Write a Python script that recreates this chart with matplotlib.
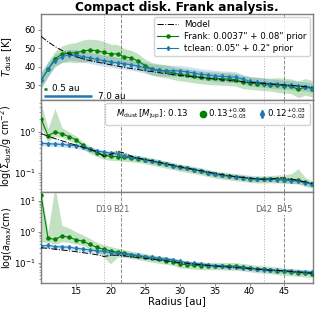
import numpy as np
import matplotlib
matplotlib.use("Agg")
import matplotlib.pyplot as plt
from matplotlib.lines import Line2D

# ----- data ----------------------------------------------------------
radius = [10, 11, 12, 13, 14, 15, 16, 17, 18, 19,
          20, 21, 22, 23, 24, 25, 26, 27, 28, 29,
          30, 31, 32, 33, 34, 35, 36, 37, 38, 39,
          40, 41, 42, 43, 44, 45, 46, 47, 48, 49]

# dust temperature [K]
t_model = [56.5, 53.5, 51.0, 48.8, 47.0, 45.5, 44.3, 43.3, 42.5, 41.8,
           41.0, 40.3, 39.6, 39.0, 38.4, 37.8, 37.3, 36.7, 36.2, 35.7,
           35.2, 34.8, 34.4, 34.0, 33.6, 33.2, 32.8, 32.5, 32.1, 31.8,
           31.5, 31.2, 30.9, 30.6, 30.3, 30.0, 29.7, 29.4, 29.1, 28.8]
t_frank = [32.5, 38.5, 44.3, 46.7, 47.5, 47.6, 48.5, 49.0, 48.7, 47.8,
           46.8, 47.0, 45.3, 44.8, 43.0, 40.5, 38.7, 38.0, 37.5, 36.5,
           35.8, 35.3, 34.7, 34.2, 33.8, 33.6, 33.4, 33.2, 32.9, 31.6,
           31.2, 30.8, 30.5, 30.2, 30.0, 29.7, 29.3, 27.6, 29.0, 28.0]
t_frank_err = [4.0, 4.0, 4.0, 4.5, 5.0, 5.5, 6.0, 6.0, 6.0, 6.0,
               5.5, 5.0, 4.5, 4.0, 4.0, 3.5, 3.5, 3.5, 3.5, 3.5,
               3.5, 3.5, 3.5, 3.5, 3.5, 3.5, 3.5, 3.5, 3.5, 3.5,
               3.5, 3.5, 3.5, 3.5, 4.0, 4.0, 4.0, 4.5, 4.5, 4.5]
t_tclean = [32.5, 38.7, 43.3, 45.3, 46.5, 46.3, 45.5, 44.8, 44.0, 43.3,
            42.7, 42.0, 41.6, 41.0, 40.3, 39.3, 38.5, 38.0, 37.8, 37.8,
            37.6, 37.2, 36.5, 35.8, 35.5, 35.0, 34.7, 34.5, 34.3, 33.3,
            32.0, 31.6, 31.2, 30.8, 30.5, 30.2, 29.9, 29.6, 29.2, 28.5]
t_tclean_err = [4.5, 4.0, 3.5, 3.0, 3.0, 3.0, 3.0, 3.0, 3.0, 3.0,
                3.0, 3.0, 3.0, 3.0, 3.0, 3.0, 3.0, 3.0, 3.0, 3.0,
                3.0, 3.0, 3.0, 3.0, 3.0, 3.0, 3.0, 3.0, 3.0, 2.5,
                2.5, 2.5, 2.5, 2.5, 2.5, 2.5, 2.5, 2.5, 2.5, 2.5]

# dust surface density [g cm^-2]
s_model = [0.90, 0.78, 0.68, 0.60, 0.53, 0.47, 0.42, 0.37, 0.33, 0.25,
           0.28, 0.33, 0.30, 0.25, 0.225, 0.21, 0.195, 0.18, 0.165, 0.152,
           0.140, 0.130, 0.120, 0.112, 0.104, 0.097, 0.090, 0.085, 0.080, 0.077,
           0.074, 0.071, 0.069, 0.070, 0.074, 0.075, 0.070, 0.064, 0.059, 0.055]
s_frank = [2.1, 0.80, 0.98, 0.90, 0.76, 0.64, 0.47, 0.37, 0.31, 0.265,
           0.25, 0.245, 0.237, 0.23, 0.22, 0.205, 0.19, 0.175, 0.16, 0.148,
           0.135, 0.127, 0.118, 0.110, 0.100, 0.092, 0.087, 0.083, 0.079, 0.076,
           0.072, 0.070, 0.070, 0.071, 0.070, 0.068, 0.068, 0.066, 0.058, 0.053]
s_frank_up = [2.4, 1.5, 3.8, 1.4, 1.3, 1.25, 1.2, 1.2, 1.2, 1.2,
              1.25, 1.5, 1.25, 1.2, 1.2, 1.2, 1.2, 1.2, 1.2, 1.2,
              1.2, 1.2, 1.2, 1.2, 1.2, 1.2, 1.2, 1.2, 1.2, 1.2,
              1.2, 1.2, 1.2, 1.2, 1.25, 1.3, 1.4, 1.9, 1.3, 1.2]
s_frank_dn = [0.6, 0.7, 0.8, 0.8, 0.8, 0.8, 0.8, 0.8, 0.8, 0.8,
              0.8, 0.8, 0.8, 0.8, 0.8, 0.8, 0.8, 0.8, 0.8, 0.8,
              0.8, 0.8, 0.8, 0.8, 0.8, 0.8, 0.8, 0.8, 0.8, 0.8,
              0.8, 0.8, 0.8, 0.8, 0.8, 0.8, 0.8, 0.8, 0.8, 0.8]
s_tclean = [0.52, 0.51, 0.50, 0.49, 0.47, 0.45, 0.42, 0.37, 0.34, 0.32,
            0.30, 0.285, 0.26, 0.24, 0.23, 0.205, 0.19, 0.178, 0.162, 0.148,
            0.137, 0.128, 0.118, 0.110, 0.100, 0.092, 0.087, 0.083, 0.079, 0.076,
            0.072, 0.069, 0.069, 0.070, 0.068, 0.066, 0.064, 0.062, 0.057, 0.052]
s_tclean_frac = 0.13

# maximum grain size [cm]
a_model = [0.30, 0.29, 0.27, 0.255, 0.24, 0.225, 0.21, 0.195, 0.18, 0.158,
           0.17, 0.175, 0.165, 0.155, 0.145, 0.137, 0.128, 0.12, 0.113, 0.107,
           0.100, 0.095, 0.090, 0.086, 0.082, 0.078, 0.075, 0.072, 0.069, 0.066,
           0.064, 0.062, 0.059, 0.057, 0.056, 0.055, 0.052, 0.050, 0.048, 0.046]
a_frank = [15.0, 0.62, 0.56, 0.72, 0.66, 0.55, 0.49, 0.39, 0.31, 0.27,
           0.24, 0.215, 0.20, 0.18, 0.165, 0.15, 0.137, 0.127, 0.117, 0.108,
           0.090, 0.086, 0.082, 0.080, 0.079, 0.079, 0.078, 0.077, 0.077, 0.072,
           0.068, 0.063, 0.061, 0.058, 0.055, 0.052, 0.050, 0.048, 0.046, 0.044]
a_frank_up = [1.5, 1.6, 50.0, 2.2, 2.0, 1.8, 1.6, 1.55, 1.45, 1.4,
              1.38, 1.35, 1.3, 1.3, 1.3, 1.3, 1.3, 1.3, 1.3, 1.3,
              1.3, 1.3, 1.3, 1.3, 1.3, 1.3, 1.3, 1.3, 1.3, 1.3,
              1.3, 1.3, 1.3, 1.3, 1.3, 1.3, 1.3, 1.3, 1.3, 1.3]
a_frank_dn = [0.03, 0.73, 0.7, 0.65, 0.68, 0.72, 0.72, 0.72, 0.7, 0.55,
              0.38, 0.7, 0.75, 0.75, 0.75, 0.75, 0.75, 0.75, 0.75, 0.75,
              0.75, 0.75, 0.75, 0.75, 0.75, 0.75, 0.75, 0.75, 0.75, 0.75,
              0.75, 0.75, 0.75, 0.75, 0.75, 0.75, 0.75, 0.75, 0.75, 0.75]
a_tclean = [0.34, 0.36, 0.33, 0.32, 0.315, 0.29, 0.275, 0.255, 0.24, 0.232,
            0.21, 0.20, 0.19, 0.18, 0.17, 0.157, 0.147, 0.138, 0.13, 0.123,
            0.110, 0.100, 0.095, 0.090, 0.085, 0.080, 0.077, 0.074, 0.072, 0.069,
            0.066, 0.063, 0.060, 0.058, 0.056, 0.055, 0.053, 0.051, 0.050, 0.049]
a_tclean_frac = 0.15

# rings / gaps
feat_pos = [19.0, 21.5, 42.0, 45.0]
feat_name = ["D19", "B21", "D42", "B45"]
feat_style = [":", "--", ":", "--"]

beam_frank = 0.5
beam_tclean = 7.0

GREEN = "green"
BLUE = "#1f77b4"
GREY = "#7f7f7f"

r = np.array(radius)

fig = plt.figure(figsize=(3.18, 3.09), dpi=100)
left, width = 0.129, 0.855
ax1 = fig.add_axes([left, 0.676, width, 0.279])
ax2 = fig.add_axes([left, 0.379, width, 0.297], sharex=ax1)
ax3 = fig.add_axes([left, 0.084, width, 0.295], sharex=ax1)


def draw(ax, model, frank, f_lo, f_hi, tclean, t_lo, t_hi):
    ax.fill_between(r, f_lo, f_hi, color=GREEN, alpha=0.24, lw=0, zorder=1)
    ax.fill_between(r, t_lo, t_hi, color=BLUE, alpha=0.22, lw=0, zorder=1)
    ax.plot(r, model, color="k", ls="-.", lw=0.7, zorder=4, label="Model")
    ax.plot(r, frank, color=GREEN, marker="o", ms=2.2, lw=0.8, zorder=3)
    ax.plot(r, tclean, color=BLUE, marker="d", ms=2.0, lw=0.8, zorder=3)
    ax.plot(r, tclean, color=BLUE, marker="|", ms=3.5, ls="none", mew=0.8, zorder=3)
    for xp, st in zip(feat_pos, feat_style):
        ax.axvline(xp, color=GREY, ls=st, lw=0.7, zorder=0,
                   alpha=0.6 if st == ":" else 0.9)


tf = np.array(t_frank)
tfe = np.array(t_frank_err)
tt = np.array(t_tclean)
tte = np.array(t_tclean_err)
draw(ax1, t_model, tf, tf - tfe, tf + tfe, tt, tt - tte, tt + tte)

sf = np.array(s_frank)
st_ = np.array(s_tclean)
draw(ax2, s_model, sf, sf * np.array(s_frank_dn), sf * np.array(s_frank_up),
     st_, st_ * (1 - s_tclean_frac), st_ * (1 + s_tclean_frac))

af = np.array(a_frank)
at = np.array(a_tclean)
draw(ax3, a_model, af, af * np.array(a_frank_dn), af * np.array(a_frank_up),
     at, at * (1 - a_tclean_frac), at * (1 + a_tclean_frac))

# axes limits / scales
ax1.set_xlim(10.0, 49.1)
ax1.set_ylim(21.8, 68.7)
ax2.set_yscale("log")
ax2.set_ylim(0.034, 5.9)
ax3.set_yscale("log")
ax3.set_ylim(0.022, 19.0)
ax1.set_yticks([30, 40, 50, 60])
ax3.set_xticks([15, 20, 25, 30, 35, 40, 45])

for ax in (ax1, ax2, ax3):
    ax.tick_params(labelsize=6.3, length=2.5, width=0.6, color=GREY, pad=1.2)
    ax.tick_params(which="minor", length=1.5, width=0.5, color=GREY)
    ax.tick_params(axis="x", length=2, pad=1)
    for sp in ax.spines.values():
        sp.set_color(GREY)
        sp.set_linewidth(1.0)
for ax in (ax1, ax2):
    plt.setp(ax.get_xticklabels(), visible=False)

ax1.set_ylabel(r"$T_{\rm dust}$ [K]", fontsize=7.3)
ax2.set_ylabel(r"log($\Sigma_{\rm dust}$/g cm$^{-2}$)", fontsize=6.9)
ax3.set_ylabel(r"log($a_{\rm max}$/cm)", fontsize=6.9)
for ax in (ax1, ax2, ax3):
    ax.yaxis.set_label_coords(-0.098, 0.5)
ax3.set_xlabel("Radius [au]", fontsize=7.3, labelpad=0)
ax1.set_title("Compact disk. Frank analysis.", fontsize=8.7, fontweight="bold",
              pad=2)

# beam sizes
ax1.plot([10.4, 10.4 + beam_frank], [28.0, 28.0], color=GREEN, lw=1.8,
         solid_capstyle="butt")
ax1.text(11.6, 28.0, f"{beam_frank} au", fontsize=6.3, va="center")
ax1.plot([10.4, 10.4 + beam_tclean], [23.8, 23.8], color=BLUE, lw=1.8,
         solid_capstyle="butt")
ax1.text(18.2, 23.8, f"{beam_tclean} au", fontsize=6.3, va="center")

# feature labels
for xp, name in zip(feat_pos, feat_name):
    ax3.text(xp, 5.0, name, fontsize=6, color="#666666", ha="center",
             va="center", zorder=5,
             bbox=dict(facecolor="white", edgecolor="none", pad=0.3))

# legends
h_model = Line2D([], [], color="k", ls="-.", lw=0.7)
h_frank = Line2D([], [], color=GREEN, marker="o", ms=2.2, lw=0.8)
h_tc = (Line2D([], [], color=BLUE, marker="d", ms=2.0, lw=0.8),
        Line2D([], [], color=BLUE, marker="|", ms=3.5, ls="none", mew=0.8))
ax1.legend([h_model, h_frank, h_tc],
           ["Model", "Frank: 0.0037\" + 0.08\" prior",
            "tclean: 0.05\" + 0.2\" prior"],
           loc="upper right", fontsize=6.2, handlelength=2.4,
           borderpad=0.4, labelspacing=0.3, handletextpad=0.7,
           borderaxespad=0.35, framealpha=0.85)

h_blank = Line2D([], [], color="none")
h_g = Line2D([], [], color=GREEN, marker="o", ms=4.5, ls="none")
h_b = (Line2D([], [], color=BLUE, marker="d", ms=4.0, ls="none"),
       Line2D([], [], color=BLUE, marker="|", ms=6, ls="none", mew=1.0))
ax2.legend([h_blank, h_g, h_b],
           [r"$M_{\rm dust}\,[M_{\rm Jup}]$: 0.13",
            r"0.13$^{+0.06}_{-0.03}$", r"0.12$^{+0.03}_{-0.02}$"],
           loc="upper right", ncol=3, fontsize=6.2, handlelength=0.6,
           handletextpad=0.3, columnspacing=1.4, borderpad=0.4,
           borderaxespad=0.35, framealpha=0.85)

fig.savefig("out.png", dpi=100)
